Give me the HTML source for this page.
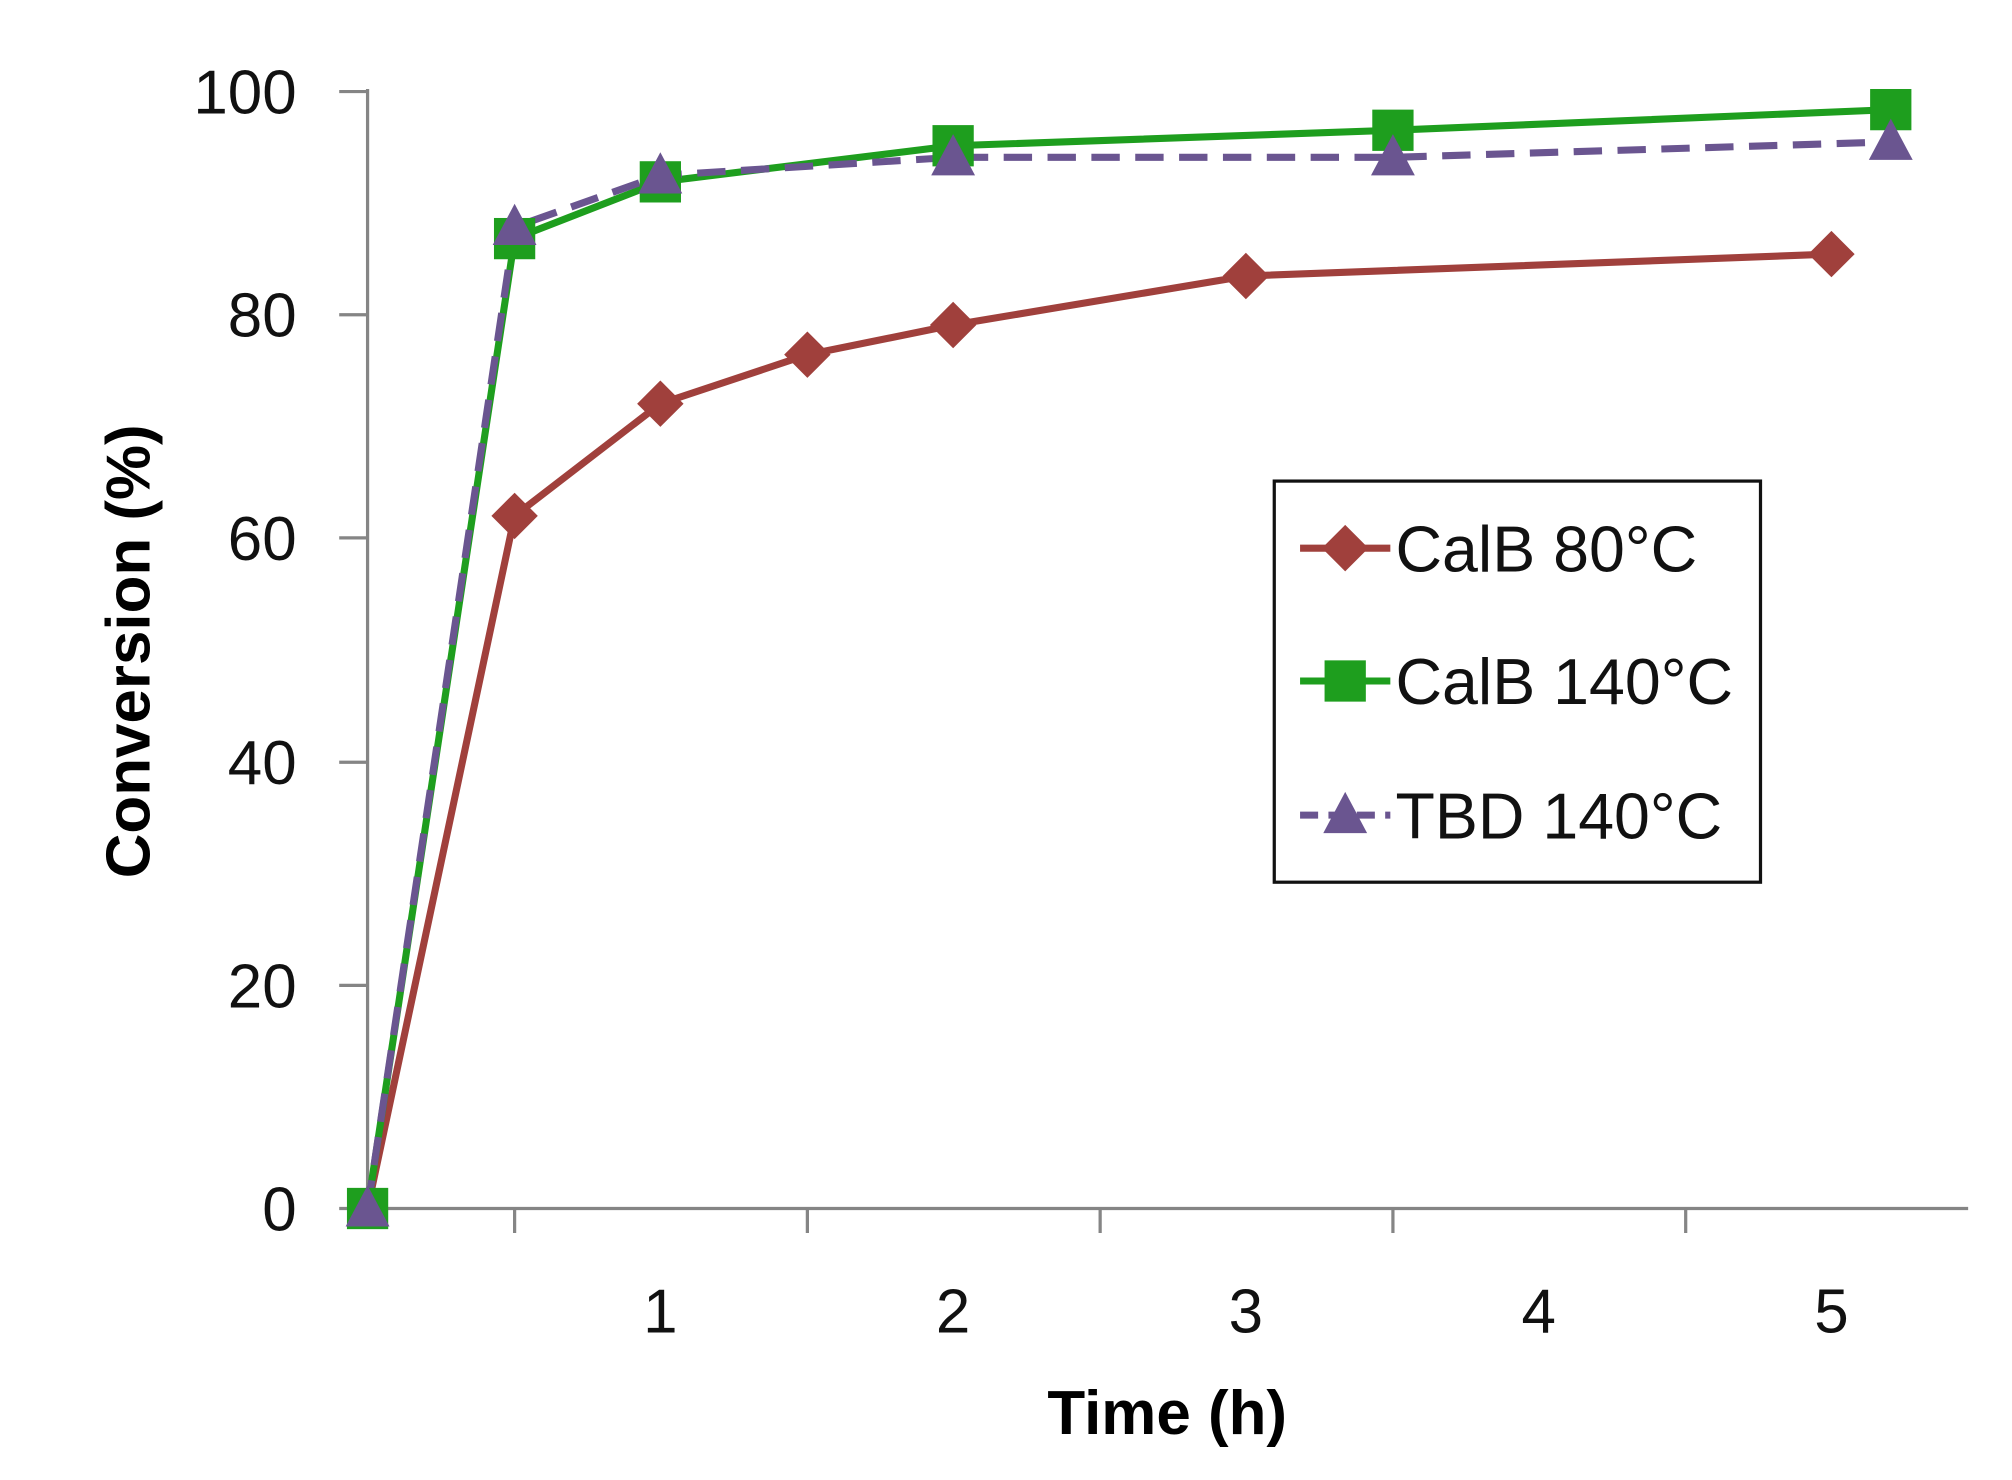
<!DOCTYPE html>
<html><head><style>html,body{margin:0;padding:0;background:#fff}svg{display:block}</style></head>
<body>
<svg width="2012" height="1480" viewBox="0 0 1560 1147.5" preserveAspectRatio="none" xmlns="http://www.w3.org/2000/svg" font-family="Liberation Sans, sans-serif">
<g stroke="#858585" stroke-width="2.5" fill="none">
<line x1="285" y1="69" x2="285" y2="939"/>
<line x1="284" y1="937" x2="1526" y2="937"/>
<line x1="263" y1="71" x2="285" y2="71"/>
<line x1="263" y1="244" x2="285" y2="244"/>
<line x1="263" y1="417" x2="285" y2="417"/>
<line x1="263" y1="591" x2="285" y2="591"/>
<line x1="263" y1="764" x2="285" y2="764"/>
<line x1="263" y1="937" x2="285" y2="937"/>
<line x1="399" y1="937" x2="399" y2="956"/>
<line x1="626" y1="937" x2="626" y2="956"/>
<line x1="853" y1="937" x2="853" y2="956"/>
<line x1="1080" y1="937" x2="1080" y2="956"/>
<line x1="1307" y1="937" x2="1307" y2="956"/>
</g>
<g font-size="48" fill="#111" text-anchor="end">
<text x="230" y="88">100</text><text x="230" y="261">80</text><text x="230" y="434">60</text>
<text x="230" y="608">40</text><text x="230" y="781">20</text><text x="230" y="954">0</text>
</g>
<g font-size="48" fill="#111" text-anchor="middle">
<text x="512" y="1033">1</text><text x="739" y="1033">2</text><text x="966" y="1033">3</text>
<text x="1193" y="1033">4</text><text x="1420" y="1033">5</text>
</g>
<text x="905" y="1112" font-size="48" font-weight="bold" text-anchor="middle">Time (h)</text>
<text transform="translate(116,505) rotate(-90)" font-size="48" font-weight="bold" text-anchor="middle">Conversion (%)</text>
<defs>
<path id="d" d="M0,-18 L18,0 L0,18 L-18,0Z" fill="#a0403c"/>
<rect id="s" x="-16" y="-16" width="32" height="32" fill="#1e9e1e"/>
<path id="t" d="M0,-18 L17,14 L-17,14Z" fill="#6a5590"/>
</defs>
<polyline points="285,937 399,400 512,313 626,275 739,252 966,214 1420,197" fill="none" stroke="#a0403c" stroke-width="5.5"/>
<polyline points="285,937 399,185 512,141 739,113 1080,101 1466,85" fill="none" stroke="#1e9e1e" stroke-width="5.5"/>
<polyline points="285,937 399,176 512,136 739,122 1080,122 1466,110" fill="none" stroke="#6a5590" stroke-width="5.5" stroke-dasharray="22,12"/>
<g><use href="#d" x="399" y="400"/><use href="#d" x="512" y="313"/><use href="#d" x="626" y="275"/><use href="#d" x="739" y="252"/><use href="#d" x="966" y="214"/><use href="#d" x="1420" y="197"/></g>
<g><use href="#s" x="285" y="937"/><use href="#s" x="399" y="185"/><use href="#s" x="512" y="141"/><use href="#s" x="739" y="113"/><use href="#s" x="1080" y="101"/><use href="#s" x="1466" y="85"/></g>
<g><use href="#t" x="285" y="937"/><use href="#t" x="399" y="176"/><use href="#t" x="512" y="136"/><use href="#t" x="739" y="122"/><use href="#t" x="1080" y="122"/><use href="#t" x="1466" y="110"/></g>
<rect x="988" y="373" width="377" height="311" fill="#fff" stroke="#111" stroke-width="2.5"/>
<line x1="1008" y1="425" x2="1078" y2="425" stroke="#a0403c" stroke-width="5.5"/><use href="#d" x="1043" y="425"/>
<line x1="1008" y1="528" x2="1078" y2="528" stroke="#1e9e1e" stroke-width="5.5"/><use href="#s" x="1043" y="528"/>
<line x1="1008" y1="632" x2="1078" y2="632" stroke="#6a5590" stroke-width="5.5" stroke-dasharray="14,8"/><use href="#t" x="1043" y="632"/>
<g font-size="50" fill="#111">
<text x="1082" y="443">CalB 80°C</text><text x="1082" y="546">CalB 140°C</text><text x="1082" y="650">TBD 140°C</text>
</g>
</svg>
</body></html>
